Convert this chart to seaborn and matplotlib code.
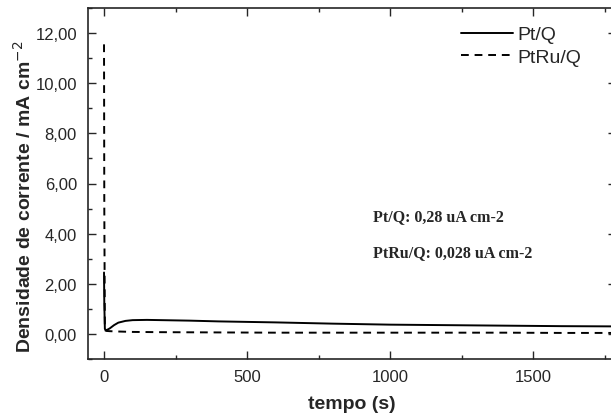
import pandas as pd
import matplotlib.pyplot as plt
import matplotlib.ticker as mticker
import seaborn as sns

## Dados
tempo_pt = [0, 1, 3, 6, 12, 20, 35, 50, 75, 100, 150, 200, 300, 400, 500, 600, 800, 1000, 1200, 1400, 1600, 1800]
corrente_pt = [2.45, 1.2, 0.2, 0.15, 0.17, 0.22, 0.35, 0.45, 0.52, 0.55, 0.56, 0.55, 0.53, 0.5, 0.48, 0.46, 0.41, 0.37, 0.35, 0.33, 0.31, 0.30]

tempo_ptru = [0, 1, 3, 8, 20, 40, 70, 100, 200, 400, 600, 800, 1000, 1200, 1400, 1600, 1800]
corrente_ptru = [11.55, 5.0, 0.15, 0.12, 0.11, 0.1, 0.09, 0.08, 0.07, 0.06, 0.05, 0.05, 0.05, 0.05, 0.05, 0.04, 0.04]

series = ['Pt/Q', 'PtRu/Q']
anotacoes = ['Pt/Q: 0,28 uA cm-2', 'PtRu/Q: 0,028 uA cm-2']

df_pt = pd.DataFrame({'tempo': tempo_pt, 'corrente': corrente_pt, 'amostra': series[0]})
df_ptru = pd.DataFrame({'tempo': tempo_ptru, 'corrente': corrente_ptru, 'amostra': series[1]})

sns.set_style('ticks')
plt.rcParams['font.family'] = ['Liberation Sans', 'DejaVu Sans']

fig = plt.figure(figsize=(6.11, 4.14), dpi=100)
ax = fig.add_axes([88 / 611, 54 / 414, (616 - 88) / 611, (360 - 9) / 414])

sns.lineplot(data=df_pt, x='tempo', y='corrente', color='black', linewidth=1.4,
             label=series[0], ax=ax, sort=False)
sns.lineplot(data=df_ptru, x='tempo', y='corrente', color='black', linewidth=1.4,
             linestyle=(0, (4, 3)), label=series[1], ax=ax, sort=False)

ax.set_xlim(-56, 1790)
ax.set_ylim(-1, 13)
ax.xaxis.set_major_locator(mticker.MultipleLocator(500))
ax.xaxis.set_minor_locator(mticker.MultipleLocator(250))
ax.yaxis.set_major_locator(mticker.MultipleLocator(2))
ax.yaxis.set_minor_locator(mticker.MultipleLocator(1))
ax.yaxis.set_major_formatter(mticker.FuncFormatter(lambda v, p: '{:.2f}'.format(v).replace('.', ',')))
ax.tick_params(which='both', direction='in', top=True, right=True, labelsize=12, width=1)
ax.tick_params(which='major', length=6)
ax.tick_params(which='minor', length=3)
ax.tick_params(axis='y', pad=8)
ax.tick_params(axis='x', pad=7)
for s in ax.spines.values():
    s.set_linewidth(1.2)

ax.set_xlabel('tempo (s)', fontsize=14, fontweight='bold', labelpad=8)
ax.set_ylabel('Densidade de corrente / mA cm$^{-2}$', fontsize=14, fontweight='bold')
ax.yaxis.set_label_coords(-53 / 528, (360 - 197) / 351)

ax.legend(frameon=False, fontsize=14, handlelength=2.7, loc='upper left',
          bbox_to_anchor=(451 / 611, 1 - 17 / 414), bbox_transform=fig.transFigure,
          labelspacing=0.25, borderpad=0, handletextpad=0.2)

ax.text(373 / 611, 1 - 217 / 414, anotacoes[0], transform=fig.transFigure,
        family='Liberation Serif', fontweight='bold', fontsize=11.5, va='center')
ax.text(373 / 611, 1 - 253 / 414, anotacoes[1], transform=fig.transFigure,
        family='Liberation Serif', fontweight='bold', fontsize=11.5, va='center')

plt.savefig('out.png', dpi=100)
